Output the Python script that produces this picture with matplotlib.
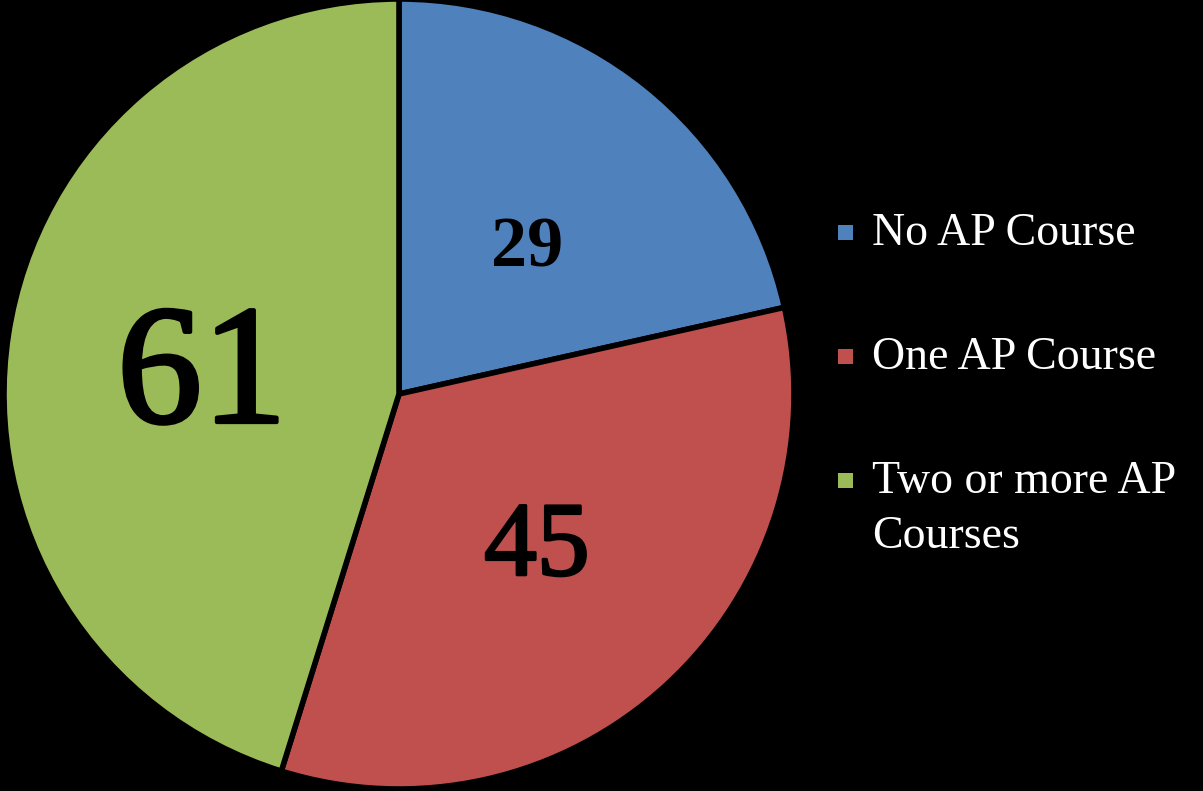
import matplotlib
matplotlib.use("Agg")
from matplotlib import pyplot as plt
from matplotlib import patheffects
from matplotlib.patches import Rectangle

# Datos del gráfico
categorias = ["No AP Course", "One AP Course", "Two or more AP\nCourses"]
valores = [29, 45, 61]
colores = ["#4F81BD", "#C0504D", "#9BBB59"]

plt.rcParams['font.family'] = ['Liberation Serif', 'DejaVu Serif']

W, H = 1203, 791
fig = plt.figure(figsize=(W / 100, H / 100), dpi=100, facecolor="black")
ax = fig.add_axes([4 / W, 2 / H, 790 / W, 790 / H])
ax.set_facecolor("black")

wedges, _ = ax.pie(valores, colors=colores, startangle=90, counterclock=False,
                   radius=1, wedgeprops=dict(edgecolor="black", linewidth=4))
ax.set_xlim(-1, 1)
ax.set_ylim(-1, 1)
ax.set_aspect("equal")
ax.axis("off")

# Etiquetas de valor dentro de cada sector (x, línea base)
posiciones = [(0.324, 0.322), (0.349, -0.458), (-0.499, -0.071)]
tamanos = [52, 76, 122]
pesos = ["bold", "normal", "normal"]
grosor = [0, 2.0, 3.0]
for v, (x, y), t, p, g in zip(valores, posiciones, tamanos, pesos, grosor):
    txt = ax.text(x, y, str(v), ha="center", va="baseline", fontsize=t,
                  fontweight=p, color="black")
    if g:
        txt.set_path_effects([patheffects.withStroke(linewidth=g, foreground="black")])

# Leyenda dibujada a mano (cuadrado alineado con la primera línea)
base_y = [245, 369, 493]
for w, cat, by in zip(wedges, categorias, base_y):
    cy = by - 13
    fig.add_artist(Rectangle(((845 - 7.5) / W, 1 - (cy + 7.5) / H), 15 / W, 15 / H,
                             transform=fig.transFigure, facecolor=w.get_facecolor(),
                             edgecolor="none"))
    for i, linea in enumerate(cat.split("\n")):
        fig.text(872 / W, 1 - (by + i * 55) / H, linea, ha="left", va="baseline",
                 fontsize=33, color="white")

fig.savefig("out.png", dpi=100, facecolor="black")
